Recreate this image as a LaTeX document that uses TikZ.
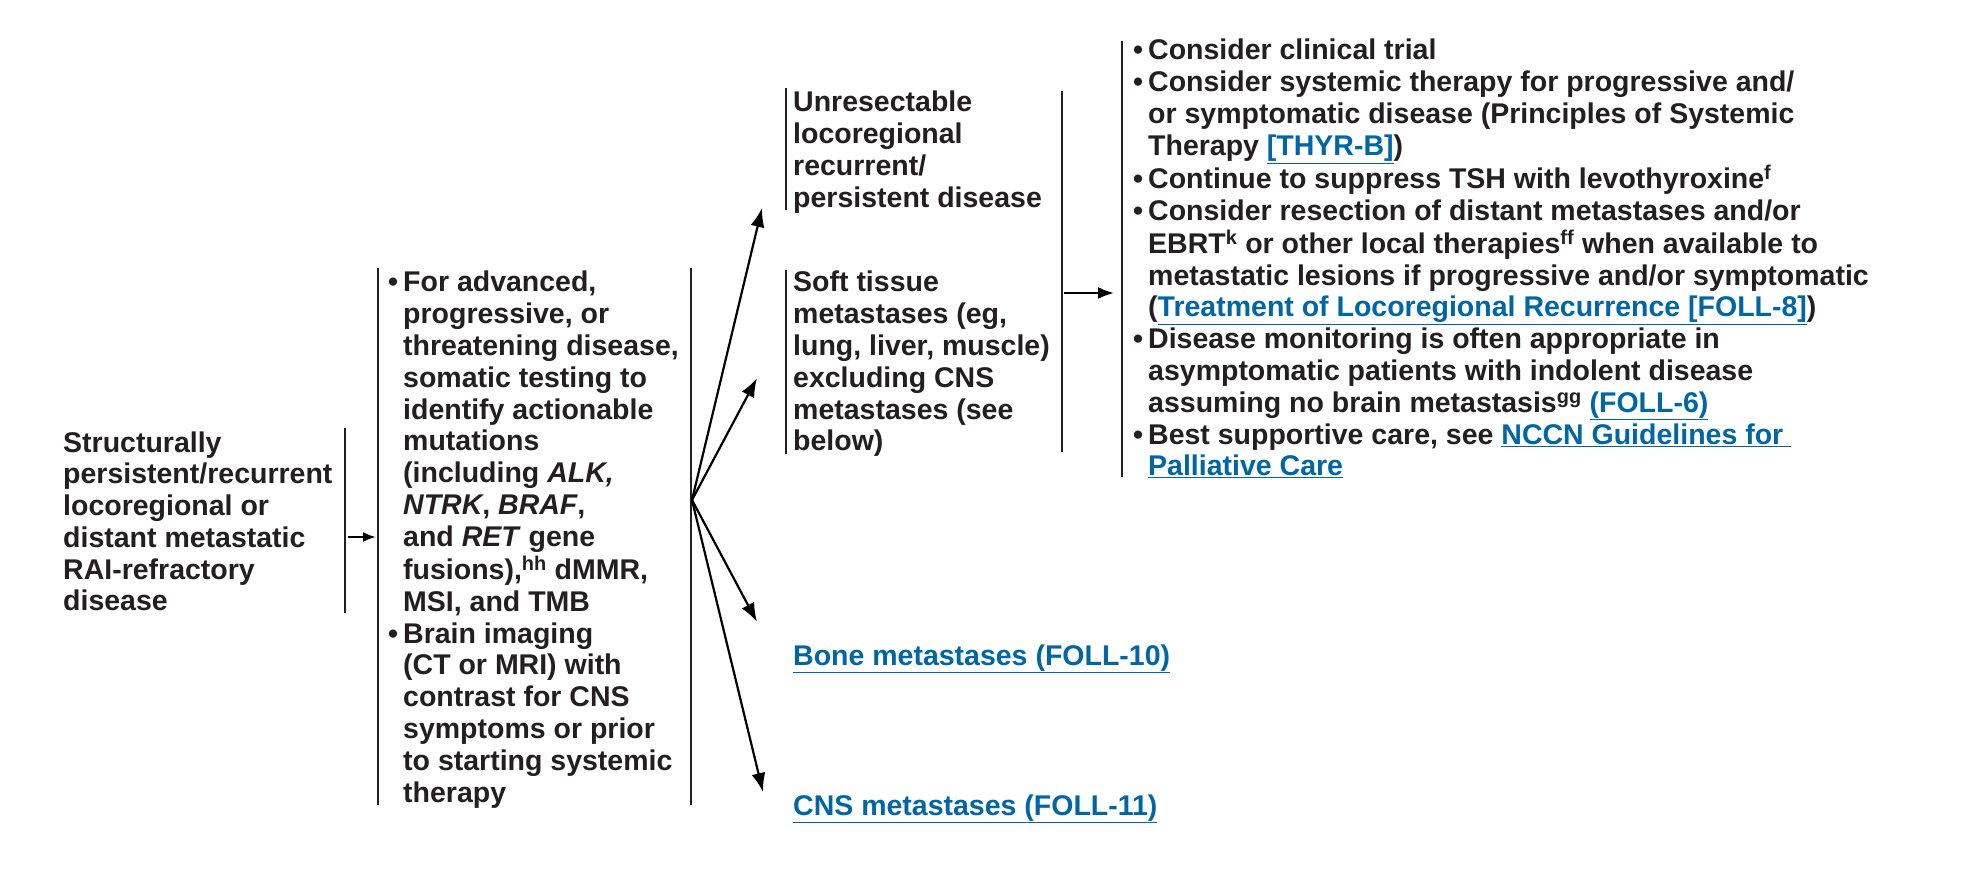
\documentclass[tikz,border=0pt]{standalone}
\usepackage{fontspec}
\setmainfont{Liberation Sans}
\usetikzlibrary{arrows.meta}
\definecolor{ink}{RGB}{35,31,32}
\definecolor{lnk}{RGB}{0,102,166}
\newcommand{\lk}[1]{\textcolor{lnk}{\underline{#1}}}
\newcommand{\bl}{\llap{\textbullet\hspace{5pt}}}
\newcommand{\sps}[1]{\textsuperscript{#1}}
\newcommand{\tb}[1]{\begin{tabular}[t]{@{}l@{}}#1\end{tabular}}
\begin{document}
\begin{tikzpicture}[x=1pt,y=-1pt,
  txt/.style={anchor=base west,inner sep=0pt,text=ink,font=\bfseries\fontsize{28.5}{31.8}\selectfont},
  bar/.style={draw=ink,line width=2.2pt},
  arr/.style={draw=black,line width=2.2pt,-{Latex[length=19pt,width=14pt]}}]
\useasboundingbox (0,0) rectangle (1968,882);
% column 1
\node[txt] (c1) at (63,452) {\tb{Structurally\\persistent/recurrent\\locoregional or\\distant metastatic\\RAI-refractory\\disease}};
\draw[bar] (345,428) -- (345,613);
\coordinate (a1s) at (348,537); \coordinate (a1e) at (376,537);
\draw[arr,-{Latex[length=13pt,width=10pt]}] (a1s) -- (a1e);
% column 2
\draw[bar] (378,268) -- (378,805);
\node[txt] (c2) at (403,292) {\tb{\bl For advanced,\\progressive, or\\threatening disease,\\somatic testing to\\identify actionable\\mutations\\(including \textit{ALK,}\\\textit{NTRK}, \textit{BRAF},\\and \textit{RET} gene\\fusions),\sps{hh} dMMR,\\MSI, and TMB\\\bl Brain imaging\\(CT or MRI) with\\contrast for CNS\\symptoms or prior\\to starting systemic\\therapy}};
\draw[bar] (691,268) -- (691,805);
% fan
\coordinate (fan) at (692,500);
\coordinate (t1) at (762,208);
\coordinate (t2) at (757,378);
\coordinate (t3) at (757,622);
\coordinate (t4) at (763,792);
\foreach \t in {t1,t2,t3,t4} \draw[arr] (fan) -- (\t);
% column 3
\draw[bar] (786,88) -- (786,210);
\node[txt] (c3a) at (793,112) {\tb{Unresectable\\locoregional\\recurrent/\\persistent disease}};
\draw[bar] (786,270) -- (786,454);
\node[txt] (c3b) at (793,292) {\tb{Soft tissue\\metastases (eg,\\lung, liver, muscle)\\excluding CNS\\metastases (see\\below)}};
\draw[bar] (1062,91) -- (1062,452);
\node[txt] (bone) at (793,665) {\lk{Bone metastases (FOLL-10)}};
\node[txt] (cns) at (793,815) {\lk{CNS metastases (FOLL-11)}};
\coordinate (a2s) at (1064,293); \coordinate (a2e) at (1114,293);
\draw[arr,-{Latex[length=16pt,width=12pt]}] (a2s) -- (a2e);
% column 4
\draw[bar] (1122,41) -- (1122,477);
\node[txt] (c4) at (1148,60) {\tb{\bl Consider clinical trial\\
\bl Consider systemic therapy for progressive and/\\or symptomatic disease (Principles of Systemic\\Therapy \lk{[THYR-B]})\\
\bl Continue to suppress TSH with levothyroxine\sps{f}\\
\bl Consider resection of distant metastases and/or\\EBRT\sps{k} or other local therapies\sps{ff} when available to\\metastatic lesions if progressive and/or symptomatic\\(\lk{Treatment of Locoregional Recurrence [FOLL-8]})\\
\bl Disease monitoring is often appropriate in\\asymptomatic patients with indolent disease\\assuming no brain metastasis\sps{gg} \lk{(FOLL-6)}\\
\bl Best supportive care, see \lk{NCCN Guidelines for\ }\\\lk{Palliative Care}}};
\end{tikzpicture}
\end{document}
